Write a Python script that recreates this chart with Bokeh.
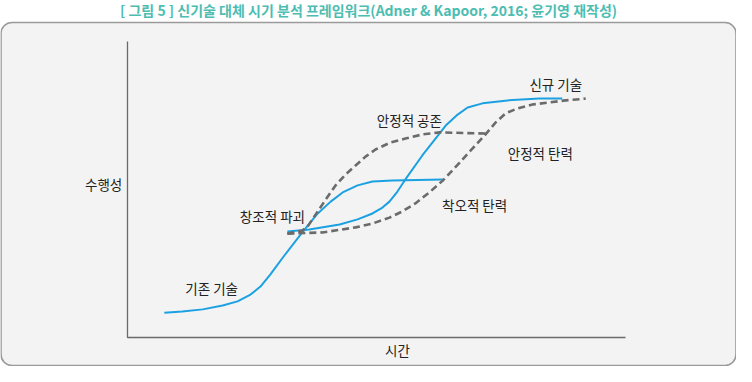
from bokeh.plotting import figure
from bokeh.models import Range1d, ColumnDataSource
from bokeh.core.properties import value
from bokeh.embed import file_html
from bokeh.resources import INLINE

# ---- data (time, performance) ----
old_t = [0.74, 1.10, 1.51, 1.91, 2.21, 2.47, 2.67, 2.87, 3.15, 3.51, 3.82, 4.08, 4.32, 4.62, 4.92, 5.32, 6.33]
old_p = [0.84, 0.88, 0.95, 1.08, 1.22, 1.45, 1.72, 2.13, 2.77, 3.55, 4.19, 4.59, 4.90, 5.14, 5.27, 5.30, 5.34]

new_t = [3.21, 3.65, 4.26, 4.62, 4.92, 5.12, 5.26, 5.42, 5.58, 5.92, 6.39, 6.63, 6.83, 7.13, 7.63, 8.27, 8.73]
new_p = [3.58, 3.65, 3.82, 3.99, 4.19, 4.39, 4.59, 4.93, 5.34, 6.15, 7.16, 7.53, 7.77, 7.91, 8.01, 8.07, 8.07]

coex_t = [3.21, 3.51, 3.63, 3.78, 3.98, 4.18, 4.38, 4.58, 4.78, 4.98, 5.28, 5.58, 5.92, 6.27, 7.19]
coex_p = [3.51, 3.61, 3.78, 4.16, 4.66, 5.14, 5.51, 5.81, 6.11, 6.35, 6.59, 6.72, 6.86, 6.93, 6.89]

resil_t = [3.21, 3.92, 4.58, 4.92, 5.26, 5.52, 5.78, 6.06, 6.33, 6.67, 6.93, 7.19, 7.39, 7.59, 7.83, 8.13, 8.80, 9.20]
resil_p = [3.51, 3.55, 3.72, 3.85, 4.05, 4.26, 4.53, 4.90, 5.30, 5.91, 6.39, 6.86, 7.26, 7.57, 7.74, 7.87, 8.01, 8.07]

labels = ["기존 기술", "창조적 파괴", "안정적 공존", "신규 기술", "안정적 탄력", "착오적 탄력"]
label_t = [1.69, 2.91, 5.66, 8.60, 8.29, 6.97]
label_p = [1.66, 4.12, 7.36, 8.55, 6.22, 4.49]

title = "[ 그림 5 ] 신기술 대체 시기 분석 프레임워크(Adner & Kapoor, 2016; 윤기영 재작성)"
x_title = "시간"
y_title = "수행성"

# ---- figure ----
W, H = 736, 366
xr = Range1d(-2.550, 12.229)
yr = Range1d(-0.980, 11.385)

p = figure(width=W, height=H, x_range=xr, y_range=yr, output_backend="svg",
           toolbar_location=None, min_border=0)
p.axis.visible = False
p.grid.visible = False
p.outline_line_color = None
p.background_fill_color = "white"
p.border_fill_color = "white"

FONT = value("Noto Sans CJK KR")

# rounded panel
p.quad(left=[-2.540], right=[12.219], top=[10.642], bottom=[-0.946],
       fill_color="#f3f3f3", line_color="#9a9a9a", line_width=1.6, border_radius=11)

# axes (L-shape)
p.line(x=[0, 0, 10], y=[10, 0, 0], line_color="#6a6a6a", line_width=1.3)

# curves
p.line(old_t, old_p, line_color="#1ba1e2", line_width=2)
p.line(new_t, new_p, line_color="#1ba1e2", line_width=2)
p.line(coex_t, coex_p, line_color="#6b6b6b", line_width=2.6, line_dash="7 4")
p.line(resil_t, resil_p, line_color="#6b6b6b", line_width=2.6, line_dash="7 4")

# labels
src = ColumnDataSource(dict(x=label_t, y=label_p, t=labels))
p.text(x="x", y="y", text="t", source=src, text_font=FONT, text_font_size="13.5px",
       text_color="#222222", text_align="center", text_baseline="middle")

p.text(x=[-0.48], y=[5.17], text=[y_title], text_font=FONT, text_font_size="13.5px",
       text_color="#222222", text_align="center", text_baseline="middle")
p.text(x=[5.42], y=[-0.41], text=[x_title], text_font=FONT, text_font_size="13.5px",
       text_color="#222222", text_align="center", text_baseline="middle")

p.text(x=[4.84], y=[11.08], text=[title], text_font=FONT, text_font_size="14px",
       text_font_style="bold", text_color="#4dbdb2", text_align="center",
       text_baseline="middle")

open("out.html", "w").write(file_html(p, INLINE))
